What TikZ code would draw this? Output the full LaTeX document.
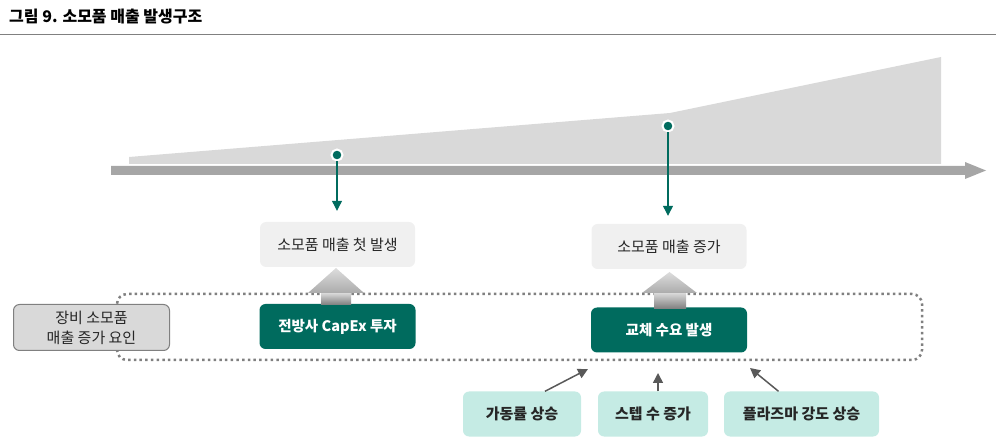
\documentclass[tikz,border=0pt]{standalone}
\usepackage{fontspec}
\setmainfont{Noto Sans CJK KR}
\usetikzlibrary{arrows.meta}
\definecolor{tealdark}{HTML}{006B5E}
\definecolor{teallight}{HTML}{C5EBE4}
\definecolor{areagray}{HTML}{D9D9D9}
\definecolor{bargray}{HTML}{A6A6A6}
\definecolor{boxgray}{HTML}{F0F0F0}
\definecolor{txt}{HTML}{262626}
\definecolor{dotgray}{HTML}{808080}
\definecolor{arrgray}{HTML}{595959}
\tikzset{
  lightbox/.style={fill=boxgray, rounded corners=6pt, minimum width=155pt, minimum height=45pt, inner sep=0pt, text=txt, font=\fontsize{15}{17}\selectfont},
  tealbox/.style={fill=tealdark, rounded corners=6pt, minimum width=156pt, minimum height=45pt, inner sep=0pt, text=white, font=\fontsize{14.5}{16}\selectfont\bfseries},
  factorbox/.style={fill=teallight, rounded corners=6pt, minimum height=45pt, inner sep=0pt, text=txt, font=\fontsize{15}{17}\selectfont\bfseries},
  leftbox/.style={fill=areagray, draw=dotgray, line width=1pt, rounded corners=6pt, minimum width=156pt, minimum height=46pt, inner sep=0pt, text=txt, align=center, font=\fontsize{15}{20}\selectfont},
  milestone/.style={circle, fill=tealdark, draw=white, line width=2pt, minimum size=11pt, inner sep=0pt},
  droparrow/.style={draw=tealdark, line width=1.2pt, -{Triangle[length=10pt,width=10pt]}},
  factorarrow/.style={draw=arrgray, line width=1.5pt, -{Triangle[length=10pt,width=10pt]}},
}
\begin{document}
\begin{tikzpicture}[x=1pt,y=-1pt]
\useasboundingbox (0,0) rectangle (996,443);
% title
\node[anchor=west, inner sep=0pt, font=\fontsize{16}{18}\selectfont\bfseries, text=black] (title) at (9,17) {그림 9. 소모품 매출 발생구조};
\draw[dotgray, line width=1pt] (0,35) -- (996,35);
% growth area
\fill[areagray] (129,157) -- (670,113) -- (941,57) -- (941,164) -- (129,164) -- cycle;
% time axis
\fill[bargray] (111,166) -- (965,166) -- (965,162) -- (986,170.5) -- (965,179) -- (965,175) -- (111,175) -- cycle;
% dotted group
\draw[dotgray, line width=2.5pt, dash pattern=on 2.5pt off 3.2pt, rounded corners=10pt] (117,294) rectangle (922,360);
% milestones and result boxes
\node[lightbox] (r1) at (337.5,244.5) {소모품 매출 첫 발생};
\node[lightbox] (r2) at (669,246.5) {소모품 매출 증가};
\node[milestone] (m1) at (337,155) {};
\node[milestone] (m2) at (668,126) {};
\draw[droparrow, shorten >=11pt] (m1) -- (m1 |- r1.north);
\draw[droparrow, shorten >=8pt] (m2) -- (m2 |- r2.north);
% cause boxes
\node[tealbox] (c1) at (337.5,326.5) {전방사 CapEx 투자};
\node[tealbox] (c2) at (669,330) {교체 수요 발생};
% gray block arrows
\shade[top color=areagray, bottom color=dotgray] (321,293) rectangle (351,304.5);
\shade[top color=areagray!90!white, bottom color=bargray!90!areagray] (308,293) -- (336,268) -- (364,293) -- cycle;
\shade[top color=areagray, bottom color=dotgray] (654,293) rectangle (686,308.5);
\shade[top color=areagray!90!white, bottom color=bargray!90!areagray] (642,293) -- (669.5,272) -- (697,293) -- cycle;
% left label
\node[leftbox] (lbl) at (91.5,327.5) {장비 소모품\\매출 증가 요인};
% factor boxes
\node[factorbox, minimum width=118pt] (f1) at (522,414) {가동률 상승};
\node[factorbox, minimum width=110pt] (f2) at (653,414) {스텝 수 증가};
\node[factorbox, minimum width=155pt] (f3) at (801.5,414) {플라즈마 강도 상승};
\coordinate (t1) at (588,369);
\coordinate (t2) at (658,373);
\coordinate (t3) at (750,368);
\draw[factorarrow] ([xshift=23pt]f1.north) -- (t1);
\draw[factorarrow] ([xshift=5pt]f2.north) -- (t2);
\draw[factorarrow] ([xshift=-23pt]f3.north) -- (t3);
\end{tikzpicture}
\end{document}
